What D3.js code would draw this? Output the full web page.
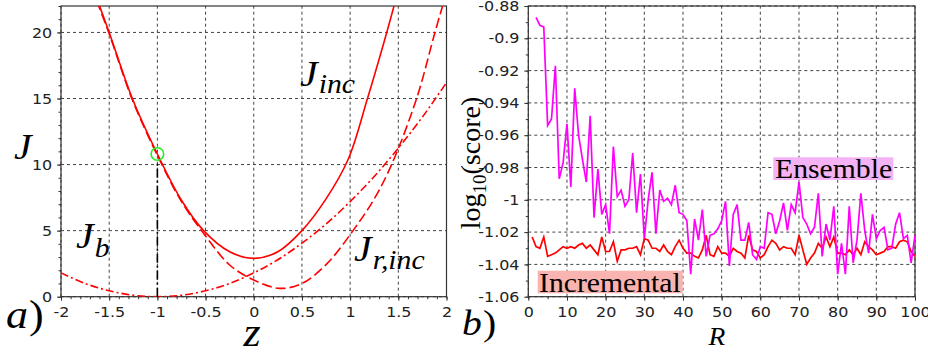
<!DOCTYPE html>
<html><head><meta charset="utf-8">
<script src="https://cdn.jsdelivr.net/npm/d3@7"></script>
<style>html,body{margin:0;padding:0;background:#fff;}svg{display:block;}</style>
</head><body>
<svg id="c" width="928" height="356"></svg>
<script>
// ---------- Panel a) data (read from picture) ----------
const zB   = [-2, -1.75, -1.5, -1.25, -1, -0.75, -0.5, -0.25, 0, 0.25, 0.5, 0.75, 1, 1.25, 1.5, 1.75, 2];
const jB   = [1.8, 1.0, 0.45, 0.11, 0, 0.11, 0.45, 1.0, 1.8, 2.8, 4.05, 5.5, 7.2, 9.1, 11.25, 13.6, 16.2];
const zInc = [-1.62, -1.5, -1.26, -1.0, -0.75, -0.52, -0.25, 0, 0.25, 0.5, 0.75, 0.98, 1.18, 1.38, 1.47];
const jInc = [22.4, 20, 15, 10.8, 7.3, 5, 3.4, 2.9, 3.4, 5, 7.4, 10.4, 15, 20, 22.4];
const zRinc = [-1.63, -1.5, -1.26, -1.0, -0.75, -0.5, -0.25, 0, 0.27, 0.5, 0.76, 1.03, 1.25, 1.43, 1.69, 1.88, 1.975];
const jRinc = [22.4, 19.9, 14.9, 10.7, 7.2, 4.6, 2.4, 1.26, 0.63, 1.0, 2.5, 5, 7.4, 10, 15, 20, 22.4];
const markerZ = -1, markerJ = 10.8;
const aXTicks = [-2, -1.5, -1, -0.5, 0, 0.5, 1, 1.5, 2];
const aYTicks = [0, 5, 10, 15, 20];

// ---------- Panel b) data (read from picture) ----------
const incremental = [-1.023,-1.029,-1.030,-1.023,-1.035,-1.034,-1.033,-1.031,-1.029,-1.030,
  -1.029,-1.030,-1.028,-1.027,-1.030,-1.028,-1.031,-1.034,-1.023,-1.032,
  -1.032,-1.026,-1.038,-1.031,-1.031,-1.030,-1.030,-1.029,-1.034,-1.024,
  -1.025,-1.030,-1.030,-1.032,-1.028,-1.032,-1.034,-1.029,-1.025,-1.030,
  -1.033,-1.033,-1.035,-1.036,-1.031,-1.022,-1.034,-1.035,-1.029,-1.033,
  -1.033,-1.035,-1.030,-1.032,-1.033,-1.036,-1.022,-1.031,-1.032,-1.036,
  -1.034,-1.029,-1.025,-1.027,-1.031,-1.029,-1.030,-1.030,-1.034,-1.022,
  -1.031,-1.040,-1.036,-1.033,-1.027,-1.030,-1.023,-1.029,-1.023,-1.033,
  -1.033,-1.034,-1.031,-1.034,-1.030,-1.034,-1.026,-1.029,-1.031,-1.034,
  -1.033,-1.032,-1.029,-1.029,-1.030,-1.026,-1.025,-1.026,-1.032,-1.035];
const ensemble = [-0.887,-0.892,-0.893,-0.954,-0.950,-0.917,-0.987,-0.977,-0.953,
  -0.992,-0.931,-0.960,-0.975,-0.989,-0.948,-1.011,-0.981,-1.009,-1.003,
  -1.021,-0.967,-0.998,-0.994,-1.004,-1.000,-0.971,-1.008,-0.984,-1.024,
  -1.000,-0.983,-1.021,-0.994,-1.001,-0.999,-1.003,-0.991,-1.008,-1.009,
  -1.013,-1.046,-1.012,-1.025,-1.006,-1.035,-1.022,-1.021,-1.018,-1.013,
  -1.001,-1.041,-1.009,-1.003,-1.025,-1.025,-1.014,-1.034,-1.037,-1.029,
  -1.030,-1.008,-1.009,-1.021,-1.013,-1.002,-1.019,-1.003,-1.008,-0.989,
  -1.011,-1.015,-1.021,-1.017,-0.996,-1.035,-1.015,-1.025,-1.004,-1.046,
  -1.027,-1.046,-1.004,-1.039,-1.025,-0.996,-1.019,-1.033,-1.009,-1.024,
  -1.019,-1.017,-1.031,-1.030,-1.015,-1.008,-1.024,-1.022,-1.039,-1.022];
const incR = d3.range(1, 101);
const ensR = d3.range(2, 101);
const bXTicks = [0,10,20,30,40,50,60,70,80,90,100];
const bYTicks = [-1.06,-1.04,-1.02,-1,-0.98,-0.96,-0.94,-0.92,-0.9,-0.88];

const svg = d3.select("#c");
const SANS = "DejaVu Sans";
const SERIF = "Liberation Serif";
const STRETCH = 1.1;

// label built from separate <text> pieces; parts = [{t, size, sub, italic, gap}]
function label(x, y, parts, opt = {}) {
  const outer = svg.append("g")
    .attr("transform", `translate(${x},${y})` + (opt.rotate ? ` rotate(${opt.rotate})` : "") +
      ` scale(${opt.rotate ? 1 : STRETCH},1)`);
  const inner = outer.append("g");
  let cx = 0;
  parts.forEach(p => {
    const t = inner.append("text")
      .attr("x", cx).attr("y", p.sub || 0)
      .attr("font-family", SERIF)
      .attr("font-size", p.size)
      .attr("font-style", p.italic ? "italic" : "normal")
      .attr("fill", "#000")
      .text(p.t);
    cx += t.node().getComputedTextLength() + (p.gap || 0);
  });
  if (opt.anchor === "middle") inner.attr("transform", `translate(${-cx / 2},0)`);
  return outer;
}

function drawAxes(g, x, y, xt, yt, xMinor, yMinor, fmtX, fmtY) {
  const [x0, x1] = x.range(), [y0, y1] = y.range();
  const grid = g.append("g").attr("stroke", "#444").attr("stroke-width", 1).attr("stroke-dasharray", "3,3");
  xt.forEach(v => grid.append("line").attr("x1", x(v)).attr("x2", x(v)).attr("y1", y0).attr("y2", y1));
  yt.forEach(v => grid.append("line").attr("x1", x0).attr("x2", x1).attr("y1", y(v)).attr("y2", y(v)));
  g.append("g").attr("transform", `translate(0,${y0})`)
    .call(d3.axisBottom(x).tickValues(xMinor).tickSize(2.5).tickFormat(""))
    .call(s => s.select(".domain").remove()).selectAll("line").attr("stroke", "#333");
  g.append("g").attr("transform", `translate(${x0},0)`)
    .call(d3.axisLeft(y).tickValues(yMinor).tickSize(2.5).tickFormat(""))
    .call(s => s.select(".domain").remove()).selectAll("line").attr("stroke", "#333");
  const ax = g.append("g").attr("transform", `translate(0,${y0})`)
    .call(d3.axisBottom(x).tickValues(xt).tickSize(4).tickPadding(6).tickFormat(fmtX));
  const ay = g.append("g").attr("transform", `translate(${x0},0)`)
    .call(d3.axisLeft(y).tickValues(yt).tickSize(4).tickPadding(4).tickFormat(fmtY));
  [ax, ay].forEach(a => {
    a.select(".domain").remove();
    a.attr("font-family", SANS);
    a.selectAll("line").attr("stroke", "#333");
    a.selectAll("text").attr("font-family", SANS).attr("font-size", 14.5).attr("fill", "#222")
      .attr("transform", `scale(${STRETCH},1)`);
  });
  g.append("rect").attr("x", x0).attr("y", y1).attr("width", x1 - x0).attr("height", y0 - y1)
    .attr("fill", "none").attr("stroke", "#333").attr("stroke-width", 1.2);
}

// ---------- Panel a ----------
const xA = d3.scaleLinear([-2, 2], [61, 446.5]);
const yA = d3.scaleLinear([0, 22], [296.7, 6]);
const gA = svg.append("g");
const fmtA = d => String(d);
drawAxes(gA, xA, yA, aXTicks, aYTicks,
  d3.range(-20, 21).map(i => i / 10), d3.range(0, 23), fmtA, fmtA);

svg.append("clipPath").attr("id", "clipA").append("rect")
  .attr("x", 61).attr("y", 6).attr("width", 385.5).attr("height", 290.7);
const curvesA = gA.append("g").attr("clip-path", "url(#clipA)").attr("fill", "none");
const lineA = (zs, js) => d3.line().x((d, i) => xA(zs[i])).y((d, i) => yA(js[i])).curve(d3.curveCatmullRom.alpha(0.5))(zs);

curvesA.append("path").attr("d", lineA(zB, jB)).attr("stroke", "#ff0000").attr("stroke-width", 1.6)
  .attr("stroke-dasharray", "8,3,2,3");
curvesA.append("path").attr("d", lineA(zRinc, jRinc)).attr("stroke", "#ff0000").attr("stroke-width", 1.6)
  .attr("stroke-dasharray", "10,4");
curvesA.append("path").attr("d", lineA(zInc, jInc)).attr("stroke", "#ff0000").attr("stroke-width", 1.6);
gA.append("line").attr("x1", xA(markerZ)).attr("x2", xA(markerZ))
  .attr("y1", yA(0)).attr("y2", yA(markerJ) + 6.5)
  .attr("stroke", "#000").attr("stroke-width", 1.6).attr("stroke-dasharray", "9,3,2,3");
gA.append("circle").attr("cx", xA(markerZ)).attr("cy", yA(markerJ)).attr("r", 6.3)
  .attr("fill", "none").attr("stroke", "#22ee22").attr("stroke-width", 1.6);

// labels a
label(14, 159, [{t: "J", size: 36, italic: true}]);
label(300, 86, [{t: "J", size: 36, italic: true, gap: 1}, {t: "inc", size: 27, italic: true, sub: 7}]);
label(76, 248, [{t: "J", size: 36, italic: true, gap: 1}, {t: "b", size: 27, italic: true, sub: 9}]);
label(354, 261, [{t: "J", size: 36, italic: true, gap: 1}, {t: "r,inc", size: 27, italic: true, sub: 8}]);
label(6, 328, [{t: "a", size: 40, italic: true, gap: 1}, {t: ")", size: 40}]);
label(252, 346, [{t: "z", size: 40, italic: true}], {anchor: "middle"});

// ---------- Panel b ----------
const xB = d3.scaleLinear([0, 100], [528.3, 915]);
const yB = d3.scaleLinear([-1.06, -0.88], [296.7, 6]);
const gB = svg.append("g");
drawAxes(gB, xB, yB, bXTicks, bYTicks,
  d3.range(0, 101, 5), d3.range(-106, -87).map(i => i / 100),
  d => String(d), d => String(+d.toFixed(2)));

gB.append("path").datum(incR)
  .attr("d", d3.line().x(r => xB(r)).y((r, i) => yB(incremental[i])))
  .attr("fill", "none").attr("stroke", "#ff0000").attr("stroke-width", 1.7);
gB.append("path").datum(ensR)
  .attr("d", d3.line().x(r => xB(r)).y((r, i) => yB(ensemble[i])))
  .attr("fill", "none").attr("stroke", "#ff00ff").attr("stroke-width", 1.7);

gB.append("rect").attr("x", 537.7).attr("y", 270.7).attr("width", 145).attr("height", 22.6).attr("fill", "#f9b3b0");
label(539, 291.5, [{t: "Incremental", size: 27}]);
gB.append("rect").attr("x", 773.3).attr("y", 157.3).attr("width", 120).attr("height", 22.7).attr("fill", "#f5b3f5");
label(775, 178.3, [{t: "Ensemble", size: 27}]);

label(480, 163, [{t: "log", size: 28}, {t: "10", size: 19, sub: 6}, {t: "(score)", size: 28}],
  {rotate: -90, anchor: "middle"});
label(462, 335, [{t: "b", size: 36, italic: true, gap: 1}, {t: ")", size: 36}]);
label(717, 345, [{t: "R", size: 25, italic: true}], {anchor: "middle"});
</script>
</body></html>
